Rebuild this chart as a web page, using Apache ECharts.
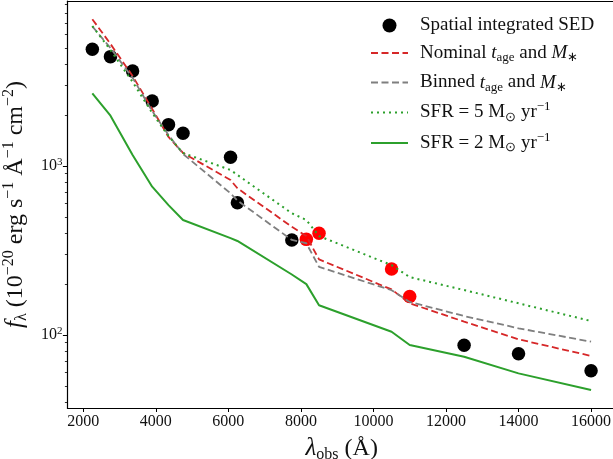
<!DOCTYPE html>
<html>
<head>
<meta charset="utf-8">
<script src="https://cdn.jsdelivr.net/npm/echarts@6/dist/echarts.min.js"></script>
<style>
  html, body { margin: 0; padding: 0; background: #fff; }
  #chart { width: 613px; height: 459px; }
</style>
</head>
<body>
<div id="chart"></div>
<script>
// Filter wavelengths (Å) at which the SED is sampled
const wavelengths = [2250, 2750, 3360, 3900, 4350, 4750, 6060, 6250, 7750, 8150, 8500, 10500, 11000, 12500, 14000, 16000];

// Observed photometry: black = broad bands, red = highlighted bands
const obsBlackWl   = [2250, 2750, 3360, 3900, 4350, 4750, 6060, 6250, 7750, 12500, 14000, 16000];
const obsBlackFlux = [4904, 4434, 3648, 2425, 1756, 1561, 1126, 606, 365, 86.9, 77.5, 61.5];
const obsRedWl     = [8150, 8500, 10500, 11000];
const obsRedFlux   = [368, 400, 246, 169];

// Model SEDs evaluated at the filter wavelengths
const nominalFlux = [7380, 5272, 3408, 2173, 1485, 1194, 826, 738, 437, 385, 280, 186, 154, 120, 94.3, 75.2];
const binnedFlux  = [6690, 4990, 3320, 2113, 1524, 1178, 689, 624, 365, 349, 253, 184, 157, 129.5, 109.6, 91.3];
const sfr5Flux    = [6730, 4850, 3142, 2060, 1500, 1194, 947, 885, 525, 479, 385, 259, 220, 184.5, 154, 121];
const sfr2Flux    = [2692, 1984, 1162, 754, 587, 479, 374, 360, 228, 200, 150, 104.6, 87.3, 74.4, 59.3, 47.3];

// Axis ticks
const xTicks = [2000, 4000, 6000, 8000, 10000, 12000, 14000, 16000];
const yMajorTicks = [100, 1000];
const yMinorTicks = [40, 50, 60, 70, 80, 90, 200, 300, 400, 500, 600, 700, 800, 900, 2000, 3000, 4000, 5000, 6000, 7000, 8000, 9000];

const FONT = 'Liberation Serif';
const INK = '#111';
const zip = (xs, ys) => xs.map((x, i) => [x, ys[i]]);

const legendRich = {
  r:   { fontFamily: FONT, fontSize: 19, color: INK, lineHeight: 19 },
  i:   { fontFamily: FONT, fontSize: 19, color: INK, fontStyle: 'italic', lineHeight: 19 },
  sub: { fontFamily: FONT, fontSize: 13, color: INK, lineHeight: 19, padding: [10, 0, 0, 0] },
  sup: { fontFamily: FONT, fontSize: 13, color: INK, lineHeight: 19, padding: [0, 0, 11, 0] }
};

const legendLabels = {
  'Spatial integrated SED': '{r|Spatial integrated SED}',
  'Nominal': '{r|Nominal }{i|t}{sub|age}{r| and }{i|M}{sub|∗}',
  'Binned': '{r|Binned }{i|t}{sub|age}{r| and }{i|M}{sub|∗}',
  'SFR5': '{r|SFR = 5 M}{sub|⊙}{r| yr}{sup|−1}',
  'SFR2': '{r|SFR = 2 M}{sub|⊙}{r| yr}{sup|−1}'
};

const nameRich = {
  r:   { fontFamily: FONT, fontSize: 24, color: INK, lineHeight: 26 },
  i:   { fontFamily: FONT, fontSize: 25, color: INK, fontStyle: 'italic', lineHeight: 26 },
  sub: { fontFamily: FONT, fontSize: 16, color: INK, lineHeight: 26, padding: [12, 0, 0, 0] },
  sup: { fontFamily: FONT, fontSize: 16, color: INK, lineHeight: 26, padding: [0, 0, 13, 0] }
};

const X_MIN = 1562.5, X_MAX = 16687.5;
const Y_MIN = 37, Y_MAX = 9460;

const chart = echarts.init(document.getElementById('chart'), null, { renderer: 'canvas' });

// line-series legend entries show only the line sample
const lineOnly = name => ({ name: name, itemStyle: { opacity: 0 } });

chart.setOption({
  animation: false,
  backgroundColor: '#fff',
  grid: { left: 67.4, right: -3, top: 1, bottom: 51, containLabel: false, outerBoundsMode: 'none' },
  legend: {
    orient: 'vertical',
    left: 365,
    top: 11,
    itemWidth: 37,
    itemHeight: 14,
    itemGap: 6.5,
    data: [
      { name: 'Spatial integrated SED' },
      lineOnly('Nominal'), lineOnly('Binned'), lineOnly('SFR5'), lineOnly('SFR2')
    ],
    formatter: name => legendLabels[name],
    textStyle: { rich: legendRich, padding: [0, 0, 0, 7] }
  },
  xAxis: [{
    type: 'value',
    min: X_MIN,
    max: X_MAX,
    position: 'bottom',
    name: '{i|λ}{sub|obs}{r| (Å)}',
    nameLocation: 'middle',
    nameGap: 27,
    nameTextStyle: { rich: nameRich },
    axisLine: { show: true, onZero: false, lineStyle: { color: '#000', width: 1.2 } },
    axisTick: { show: true, inside: false, length: 4, customValues: xTicks, lineStyle: { color: '#000', width: 1 } },
    axisLabel: {
      show: true, customValues: xTicks, margin: 6,
      formatter: v => String(v),
      fontFamily: FONT, fontSize: 16, color: INK
    },
    splitLine: { show: false }
  }, {
    // top frame line
    type: 'value',
    min: X_MIN,
    max: X_MAX,
    position: 'top',
    axisLine: { show: true, onZero: false, lineStyle: { color: '#000', width: 1.2 } },
    axisTick: { show: false },
    axisLabel: { show: false },
    splitLine: { show: false }
  }],
  yAxis: [{
    type: 'log',
    logBase: 10,
    min: Y_MIN,
    max: Y_MAX,
    position: 'left',
    name: '{i|f}{sub|λ}{r| (10}{sup|−20}{r| erg s}{sup|−1}{r| Å}{sup|−1}{r| cm}{sup|−2}{r|)}',
    nameLocation: 'middle',
    nameRotate: 90,
    nameGap: 34,
    nameTextStyle: { rich: nameRich },
    axisLine: { show: true, onZero: false, lineStyle: { color: '#000', width: 1.2 } },
    axisTick: { show: true, inside: false, length: 4.5, customValues: yMajorTicks, lineStyle: { color: '#000', width: 1 } },
    axisLabel: {
      show: true,
      customValues: yMajorTicks,
      margin: 5,
      formatter: v => '{b|10}{s|' + Math.round(Math.log10(v)) + '}',
      rich: {
        b: { fontFamily: FONT, fontSize: 16, color: INK, lineHeight: 16 },
        s: { fontFamily: FONT, fontSize: 11, color: INK, lineHeight: 16, padding: [0, 0, 8, 0] }
      }
    },
    splitLine: { show: false }
  }, {
    // minor ticks of the log axis
    type: 'log',
    logBase: 10,
    min: Y_MIN,
    max: Y_MAX,
    position: 'left',
    axisLine: { show: false },
    axisTick: { show: true, inside: false, length: 2.5, customValues: yMinorTicks, lineStyle: { color: '#000', width: 0.8 } },
    axisLabel: { show: false },
    splitLine: { show: false }
  }],
  series: [
    {
      name: 'Spatial integrated SED',
      type: 'scatter',
      data: zip(obsBlackWl, obsBlackFlux),
      symbol: 'circle',
      symbolSize: 13.5,
      itemStyle: { color: '#000', opacity: 1 }
    },
    {
      name: 'Highlighted bands',
      type: 'scatter',
      data: zip(obsRedWl, obsRedFlux),
      symbol: 'circle',
      symbolSize: 13.5,
      itemStyle: { color: '#ff0000', opacity: 1 }
    },
    {
      name: 'Nominal',
      type: 'line',
      data: zip(wavelengths, nominalFlux),
      symbol: 'none',
      itemStyle: { color: '#d62728' },
      lineStyle: { color: '#d62728', width: 1.8, type: [7, 3.5] }
    },
    {
      name: 'Binned',
      type: 'line',
      data: zip(wavelengths, binnedFlux),
      symbol: 'none',
      itemStyle: { color: '#7f7f7f' },
      lineStyle: { color: '#7f7f7f', width: 1.8, type: [7, 3.5] }
    },
    {
      name: 'SFR5',
      type: 'line',
      data: zip(wavelengths, sfr5Flux),
      symbol: 'none',
      itemStyle: { color: '#2ca02c' },
      lineStyle: { color: '#2ca02c', width: 2, type: [2, 4] }
    },
    {
      name: 'SFR2',
      type: 'line',
      data: zip(wavelengths, sfr2Flux),
      symbol: 'none',
      itemStyle: { color: '#2ca02c' },
      lineStyle: { color: '#2ca02c', width: 2, type: 'solid' }
    }
  ]
});
</script>
</body>
</html>
